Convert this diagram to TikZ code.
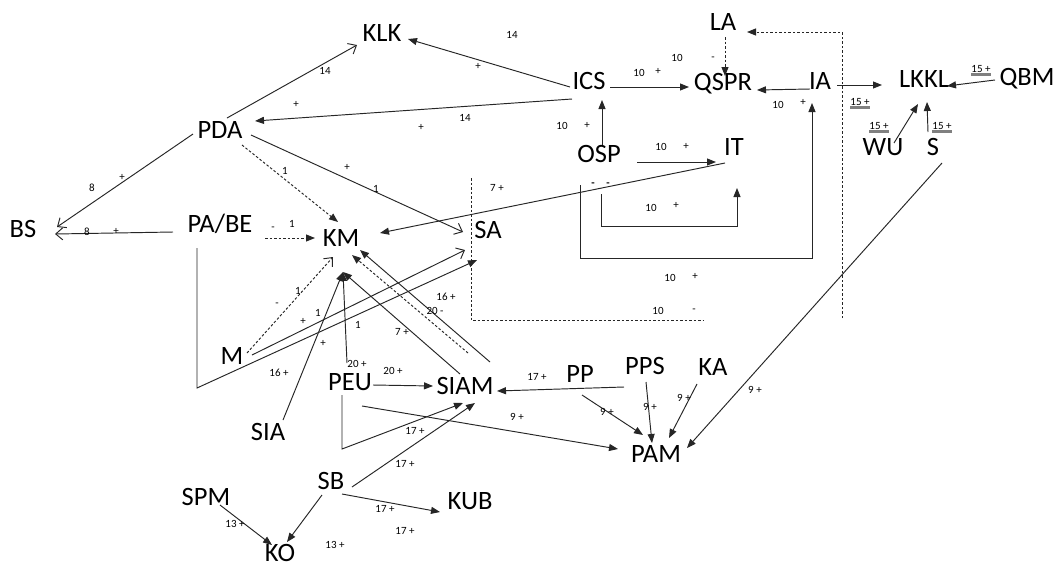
\documentclass[tikz,border=0pt]{standalone}
\usepackage{fontspec}
\setmainfont{Carlito}
\usetikzlibrary{arrows.meta,calc}
\newcommand{\glab}[1]{\setbox0\hbox{#1}\rlap{\color{gray}\rule[-3pt]{\wd0}{3pt}}\box0}
\tikzset{
  nd/.style={font=\fontsize{26.5}{26.5}\selectfont, inner sep=0pt, text height=17pt, text depth=0pt},
  lb/.style={font=\fontsize{11}{11}\selectfont, inner sep=0pt, text height=7pt, text depth=0pt},
  con/.style={line width=0.95pt, draw=black!85},
  fa/.style={con, -{Triangle[length=9pt,width=7pt]}},
  oa/.style={con, -{Straight Barb[length=7pt,width=12pt]}},
  dsh/.style={dash pattern=on 2.5pt off 2pt}
}
\begin{document}
\begin{tikzpicture}[x=1pt,y=-1pt]
\fill[white] (0,0) rectangle (1060,566);
\useasboundingbox (0,0) rectangle (1060,566);
% nodes
\node[nd] (KLK) at (382,33) {KLK};
\node[nd] (ICS) at (589,81) {ICS};
\node[nd] (QSPR) at (723,82) {QSPR};
\node[nd] (IA) at (820,81) {IA};
\node[nd] (LA) at (723,22) {LA};
\node[nd] (LKKL) at (924,79) {LKKL};
\node[nd] (QBM) at (1027,77) {QBM};
\node[nd] (WU) at (883,147) {WU};
\node[nd] (S) at (933,147) {S};
\node[nd] (IT) at (734,147) {IT};
\node[nd] (OSP) at (599,154) {OSP};
\node[nd] (PDA) at (220,130) {PDA};
\node[nd] (BS) at (23,229) {BS};
\node[nd] (PABE) at (220,224) {PA/BE};
\node[nd] (KM) at (341,238) {KM};
\node[nd] (SA) at (488,230) {SA};
\node[nd] (M) at (232,356) {M};
\node[nd] (PEU) at (350,382) {PEU};
\node[nd] (SIAM) at (465,386) {SIAM};
\node[nd] (PP) at (580,374) {PP};
\node[nd] (PPS) at (645,366) {PPS};
\node[nd] (KA) at (713,367) {KA};
\node[nd] (SIA) at (268,432) {SIA};
\node[nd] (PAM) at (656,454) {PAM};
\node[nd] (SB) at (331,481) {SB};
\node[nd] (SPM) at (206,497) {SPM};
\node[nd] (KUB) at (470,501) {KUB};
\node[nd] (KO) at (280,553) {KO};
% connectors
\draw[oa] ($(PDA)+(7,-12)$) -- ($(KLK)+(-25,12)$);
\draw[fa] ($(ICS)+(-19,6)$) -- ($(KLK)+(26,6)$);
\draw[fa] ($(ICS)+(-17,18)$) -- ($(PDA)+(35,-9)$);
\draw[oa] ($(PDA)+(-27,4)$) -- ($(BS)+(34,-2)$);
\draw[oa] ($(PABE)+(-47,8)$) -- ($(BS)+(32,5)$);
\draw[fa,dsh] ($(PDA)+(22,15)$) -- ($(KM)+(-3,-16)$);
\draw[oa] ($(PDA)+(31,5)$) -- ($(SA)+(-25,2)$);
\draw[fa,dsh] ($(PABE)+(45,14)$) -- ($(KM)+(-26,0)$);
\draw[oa,dsh] ($(M)+(15,-3)$) -- ($(KM)+(-8,19)$);
\draw[oa] ($(M)+(20,-1)$) -- ($(SA)+(-23,20)$);
\draw[fa] ($(PABE)+(-23,24)$) -- ++(0,140) -- ($(SA)+(-11,30)$);
\draw[fa] ($(SIA)+(15,-12)$) -- ($(KM)+(2,34)$);
\draw[fa] ($(PEU)+(-3,-19)$) -- ($(KM)+(2,34)$);
\draw[fa] ($(SIAM)+(-5,-12)$) -- ($(KM)+(2,34)$);
\draw[fa] ($(SIAM)+(25,-24)$) -- ($(KM)+(19,12)$);
\draw[fa,dsh] ($(SIAM)+(3,-33)$) -- ($(KM)+(11,17)$);
\draw[fa] ($(IT)+(-9,16)$) -- ($(KM)+(39,-5)$);
\draw[fa] ($(OSP)+(3,-9)$) -- ($(ICS)+(13,19)$);
\draw[fa] ($(OSP)+(38,8)$) -- ($(IT)+(-18,15)$);
\draw[fa] ($(ICS)+(21,6)$) -- ($(QSPR)+(-34,5)$);
\draw[fa] ($(IA)+(-10,8)$) -- ($(QSPR)+(34,8)$);
\draw[fa] ($(OSP)+(-19,31)$) -- ++(0,73) -| ($(IA)+(-8,22)$);
\draw[fa] ($(OSP)+(2,40)$) -- ++(0,32) -| ($(IT)+(3,41)$);
\draw[fa,dsh] ($(LA)+(2,15)$) -- ($(QSPR)+(2,-6)$);
\coordinate (dA) at (842,318);
\draw[fa,dsh] (dA) |- ($(LA)+(24,10)$);
\coordinate (dB1) at (471,178);
\coordinate (dB2) at (703,320);
\draw[con,dsh] (dB1) |- (dB2);
\draw[fa] ($(IA)+(17,4)$) -- ($(LKKL)+(-42,6)$);
\draw[fa] ($(QBM)+(-32,3)$) -- ($(LKKL)+(23,7)$);
\draw[fa] ($(WU)+(11,-4)$) -- ($(LKKL)+(-6,25)$);
\draw[fa] ($(S)+(-5,-15)$) -- ($(LKKL)+(3,23)$);
\draw[fa] ($(S)+(9,16)$) -- ($(PAM)+(31,-6)$);
\draw[fa] ($(PPS)+(-21,21)$) -- ($(SIAM)+(32,5)$);
\draw[fa] ($(PP)+(2,21)$) -- ($(PAM)+(-13,-19)$);
\draw[fa] ($(PPS)+(1,16)$) -- ($(PAM)+(-4,-11)$);
\draw[fa] ($(KA)+(-16,17)$) -- ($(PAM)+(13,-16)$);
\draw[fa] ($(PEU)+(12,24)$) -- ($(PAM)+(-38,-5)$);
\draw[fa] ($(PEU)+(23,3)$) -- ($(SIAM)+(-32,0)$);
\draw[fa] ($(PEU)+(-8,13)$) -- ++(0,54) -- ($(SIAM)+(-2,17)$);
\draw[fa] ($(SB)+(21,6)$) -- ($(SIAM)+(10,17)$);
\draw[fa] ($(SB)+(11,13)$) -- ($(KUB)+(-30,11)$);
\draw[fa] ($(SB)+(-9,14)$) -- ($(KO)+(7,-11)$);
\draw[fa] ($(SPM)+(14,8)$) -- ($(KO)+(-8,-8)$);
% labels
\node[lb] (t1) at (325,71) {14};
\node[lb] (t2) at (296,104) {+};
\node[lb] (t3) at (512,35) {14};
\node[lb] (t4) at (478,66) {+};
\node[lb] (t5) at (465,118) {14};
\node[lb] (t6) at (421,127) {+};
\node[lb] (t7) at (92,188) {8};
\node[lb] (t8) at (122,177) {+};
\node[lb] (t9) at (87,232) {8};
\node[lb] (t10) at (116,231) {+};
\node[lb] (t11) at (285,171) {1};
\node[lb] (t12) at (347,167) {+};
\node[lb] (t13) at (376,189) {1};
\node[lb] (t14) at (273,227) {-};
\node[lb] (t15) at (292,224) {1};
\node[lb] (t16) at (277,303) {-};
\node[lb] (t17) at (298,291) {1};
\node[lb] (t18) at (303,321) {+};
\node[lb] (t19) at (318,313) {1};
\node[lb] (t20) at (323,343) {+};
\node[lb] (t21) at (358,325) {1};
\node[lb] (t22) at (279,373) {16 +};
\node[lb] (t23) at (357,364) {20 +};
\node[lb] (t24) at (446,297) {16 +};
\node[lb] (t25) at (435,311) {20 -};
\node[lb] (t26) at (402,332) {7 +};
\node[lb] (t27) at (497,188) {7 +};
\node[lb] (t28) at (562,126) {10};
\node[lb] (t29) at (587,125) {+};
\node[lb] (t30) at (639,73) {10};
\node[lb] (t31) at (658,71) {+};
\node[lb] (t32) at (677,58) {10};
\node[lb] (t33) at (713,57) {-};
\node[lb] (t34) at (661,147) {10};
\node[lb] (t35) at (686,146) {+};
\node[lb] (t36) at (651,208) {10};
\node[lb] (t37) at (676,205) {+};
\node[lb] (t38) at (593,183) {\textbf{-}};
\node[lb] (t39) at (608,183) {\textbf{-}};
\node[lb] (t40) at (778,105) {10};
\node[lb] (t41) at (803,102) {+};
\node[lb] (t42) at (670,278) {10};
\node[lb] (t43) at (695,276) {+};
\node[lb] (t44) at (658,311) {10};
\node[lb] (t45) at (694,309) {-};
\node[lb] (t46) at (860,102) {\glab{15 +}};
\node[lb] (t47) at (879,126) {\glab{15 +}};
\node[lb] (t48) at (942,126) {\glab{15 +}};
\node[lb] (t49) at (981,69) {\glab{15 +}};
\node[lb] (t50) at (393,371) {20 +};
\node[lb] (t51) at (537,377) {17 +};
\node[lb] (t52) at (517,417) {9 +};
\node[lb] (t53) at (415,431) {17 +};
\node[lb] (t54) at (405,464) {17 +};
\node[lb] (t55) at (385,509) {17 +};
\node[lb] (t56) at (405,531) {17 +};
\node[lb] (t57) at (235,524) {13 +};
\node[lb] (t58) at (335,545) {13 +};
\node[lb] (t59) at (607,412) {9 +};
\node[lb] (t60) at (650,407) {9 +};
\node[lb] (t61) at (684,398) {9 +};
\node[lb] (t62) at (755,390) {9 +};
\end{tikzpicture}
\end{document}
